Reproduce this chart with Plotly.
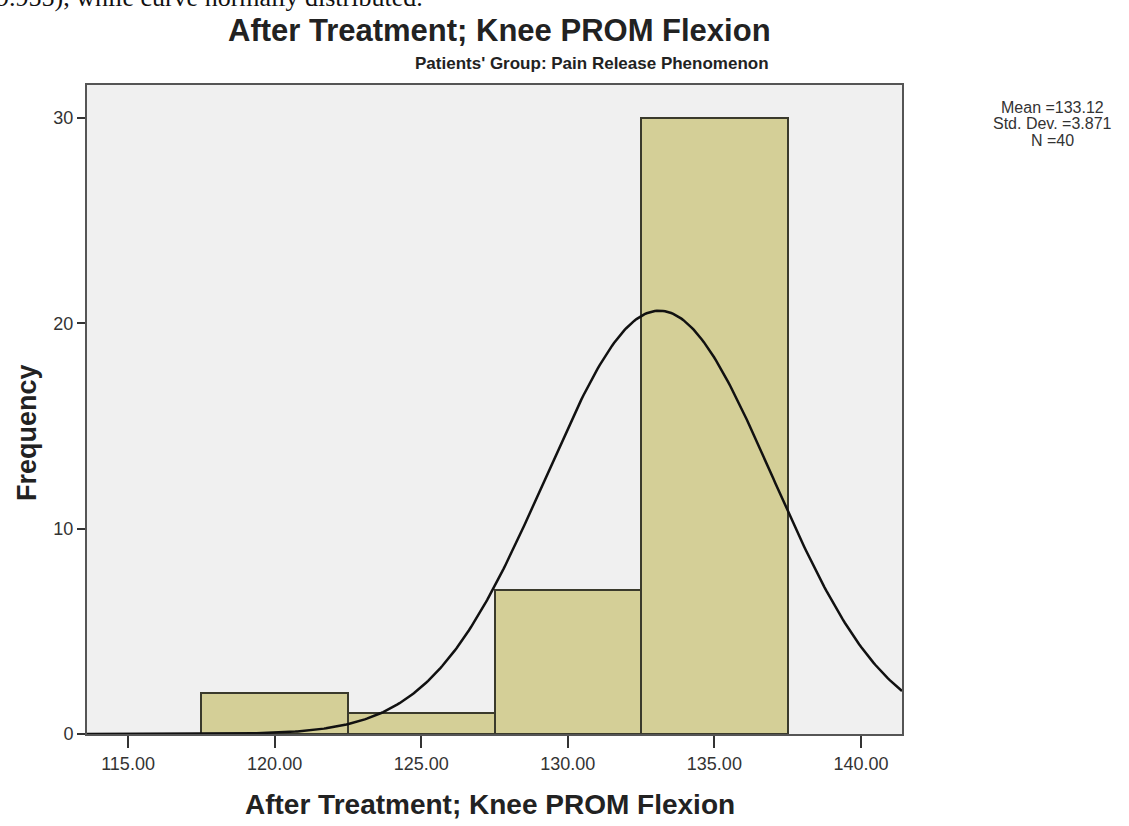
import numpy as np
import plotly.graph_objects as go

# Histogram bins (width 5) and counts
bin_centers = [120.0, 125.0, 130.0, 135.0]
bin_width = 5.0
counts = [2, 1, 7, 30]

# Summary statistics shown in the side legend
mean_val = 133.12
std_val = 3.871
n_val = 40

x_ticks = [115, 120, 125, 130, 135, 140]
y_ticks = [0, 10, 20, 30]
x_range = [113.6, 141.4]
y_range = [0, 31.6]

W, H = 1129, 826
ML, MR, MT, MB = 87, 227, 85, 92
PW, PH = W - ML - MR, H - MT - MB

# Fitted normal curve scaled to histogram counts
xs = np.linspace(x_range[0], x_range[1], 400)
ys = n_val * bin_width / (std_val * np.sqrt(2 * np.pi)) * np.exp(-0.5 * ((xs - mean_val) / std_val) ** 2)

fig = go.Figure()
fig.add_trace(go.Bar(
    x=bin_centers, y=counts, width=[bin_width] * len(counts),
    marker=dict(color="#d4cf97", line=dict(color="#3a3a2c", width=2)),
    hoverinfo="x+y", showlegend=False,
))
fig.add_trace(go.Scatter(
    x=xs, y=ys, mode="lines", line=dict(color="#111111", width=2.5),
    showlegend=False, hoverinfo="skip",
))

font_main = "Liberation Sans, Arial, sans-serif"

fig.update_layout(
    width=W, height=H,
    margin=dict(l=ML, r=MR, t=MT, b=MB),
    paper_bgcolor="white", plot_bgcolor="#f0f0f0",
    font=dict(family=font_main, color="#333333"),
    bargap=0,
)
fig.update_xaxes(
    range=x_range, tickvals=x_ticks, ticktext=[f"{v:.2f}" for v in x_ticks],
    showgrid=False, zeroline=False,
    showline=True, mirror=True, linecolor="#555555", linewidth=2,
    ticks="outside", ticklen=12, tickwidth=2, tickcolor="#333333",
    tickfont=dict(size=18, color="#333333"),
)
fig.update_yaxes(
    range=y_range, tickvals=y_ticks,
    showgrid=False, zeroline=False,
    showline=True, mirror=True, linecolor="#555555", linewidth=2,
    ticks="outside", ticklen=8, tickwidth=2, tickcolor="#333333",
    tickfont=dict(size=18, color="#333333"),
)


def place(text, px, py, size, family=font_main, color="#222222", xanchor="center", angle=0):
    # px, py are pixel positions on the page; convert to plot-relative paper coords
    fig.add_annotation(
        text=text, x=(px - ML) / PW, y=(H - MB - py) / PH, xref="paper", yref="paper",
        xanchor=xanchor, yanchor="middle", showarrow=False, textangle=angle,
        font=dict(family=family, size=size, color=color),
    )


# running text from the surrounding document, clipped at the top edge
place("9.955), while curve normally distributed.", -6, -2, 26,
      family="Liberation Serif, Times New Roman, serif", color="#111111", xanchor="left")
place("<b>After Treatment; Knee PROM Flexion</b>", 499, 30, 31)
place("<b>Patients' Group: Pain Release Phenomenon</b>", 592, 64, 17)
place("<b>After Treatment; Knee PROM Flexion</b>", 490, 805, 28)
place("<b>Frequency</b>", 27, 432, 27, angle=-90)

# statistics block, one line per annotation for tight spacing
stat_lines = [f"Mean ={mean_val:.2f}", f"Std. Dev. ={std_val:.3f}", f"N ={n_val}"]
for i, line in enumerate(stat_lines):
    place(line, 1052, 108 + 16 * i, 16, color="#333333")

fig.write_html("out.html")
